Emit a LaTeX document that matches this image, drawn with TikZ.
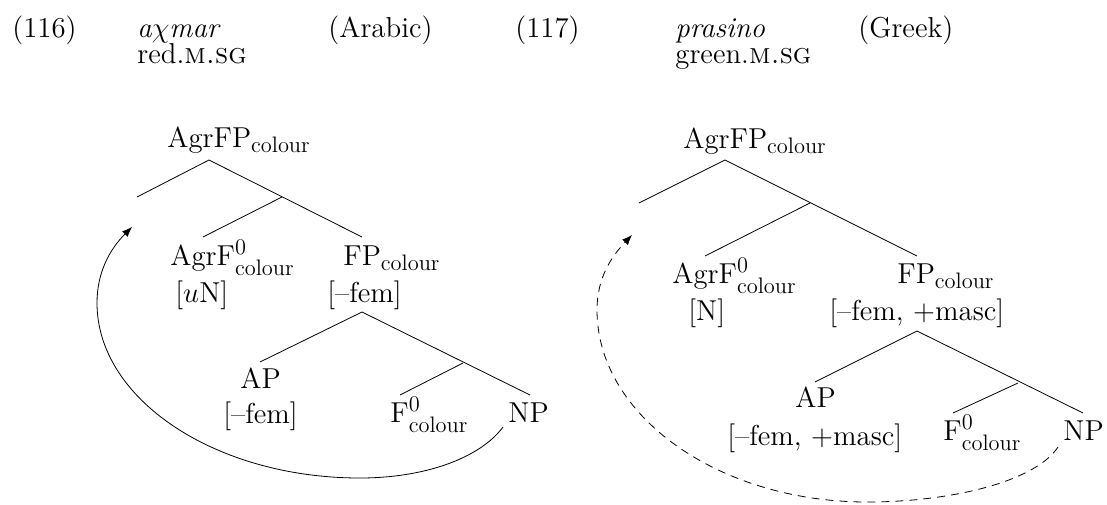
\documentclass[tikz,border=0pt]{standalone}
\usepackage{fix-cm}
\usepackage{amssymb}
\usetikzlibrary{arrows.meta}
\newcommand{\smallidx}[1]{\hbox{\fontsize{11.2}{12}\selectfont #1}}
\newcommand{\col}{$_{\smallidx{colour}}$}
\newcommand{\zcol}{$^{\smallidx{0}}_{\smallidx{colour}}$}

\begin{document}
\begin{tikzpicture}[x=0.5pt,y=-0.5pt]
\tikzset{lbl/.style={anchor=base west,inner sep=0pt,font=\fontsize{14.4}{17}\selectfont},
  mv/.style={-{Latex[length=5pt,width=4pt]}}}
\useasboundingbox (0,0) rectangle (1107,504);

% headers
\node[lbl] (ex1) at (12,37) {(116)};
\node[lbl] (wd1) at (137,37) {\textit{a$\chi$mar}};
\node[lbl] (gl1) at (137,63) {red.\textsc{m.sg}};
\node[lbl] (lg1) at (328,37) {(Arabic)};
\node[lbl] (ex2) at (515,37) {(117)};
\node[lbl] (wd2) at (675,37) {\textit{prasino}};
\node[lbl] (gl2) at (675,63) {green.\textsc{m.sg}};
\node[lbl] (lg2) at (858,37) {(Greek)};

% tree 116
\node[lbl] (agrfp1) at (167,147) {AgrFP\col};
\node[lbl] (agrf1) at (170,265) {AgrF\zcol};
\node[lbl] (un1) at (175,302) {[$u$N]};
\node[lbl] (fp1) at (343,265) {FP\col};
\node[lbl] (fpf1) at (327,302) {[--fem]};
\node[lbl] (ap1) at (240,388) {AP};
\node[lbl] (apf1) at (223,423) {[--fem]};
\node[lbl] (fz1) at (390,422) {F\zcol};
\node[lbl] (np1) at (508,422) {NP};

\coordinate (r1) at (209,160);
\coordinate (l1) at (137,197);
\coordinate (m1) at (282,197);
\coordinate (a1) at (203,237);
\coordinate (f1) at (362,237);
\coordinate (q1) at (362,312);
\coordinate (p1) at (260,362);
\coordinate (n1) at (463,363);
\coordinate (z1) at (400,395);
\coordinate (e1) at (530,395);
\coordinate (s1) at (503,427);
\coordinate (t1) at (132,227);

\draw (l1) -- (r1) -- (f1);
\draw (m1) -- (a1);
\draw (p1) -- (q1) -- (e1);
\draw (n1) -- (z1);
\draw[mv] (s1) .. controls (480,458) and (425,478) .. (360,478)
  .. controls (215,478) and (97,399) .. (97,303)
  .. controls (97,272) and (110,249) .. (t1);

% tree 117
\node[lbl] (agrfp2) at (683,148) {AgrFP\col};
\node[lbl] (agrf2) at (672,283) {AgrF\zcol};
\node[lbl] (un2) at (688,320) {[N]};
\node[lbl] (fp2) at (897,283) {FP\col};
\node[lbl] (fpf2) at (829,320) {[--fem, +masc]};
\node[lbl] (ap2) at (795,407) {AP};
\node[lbl] (apf2) at (727,445) {[--fem, +masc]};
\node[lbl] (fz2) at (943,440) {F\zcol};
\node[lbl] (np2) at (1063,440) {NP};

\coordinate (r2) at (725,160);
\coordinate (l2) at (639,203);
\coordinate (m2) at (810,203);
\coordinate (a2) at (705,256);
\coordinate (f2) at (917,256);
\coordinate (q2) at (917,331);
\coordinate (p2) at (815,382);
\coordinate (n2) at (1018,383);
\coordinate (z2) at (953,413);
\coordinate (e2) at (1083,413);
\coordinate (s2) at (1058,447);
\coordinate (t2) at (632,235);

\draw (l2) -- (r2) -- (f2);
\draw (m2) -- (a2);
\draw (p2) -- (q2) -- (e2);
\draw (n2) -- (z2);
\draw[mv,dash pattern=on 4pt off 3pt] (s2) .. controls (1035,482) and (950,502) .. (867,502)
  .. controls (719,502) and (597,416) .. (597,310)
  .. controls (597,277) and (612,256) .. (t2);
\end{tikzpicture}
\end{document}
